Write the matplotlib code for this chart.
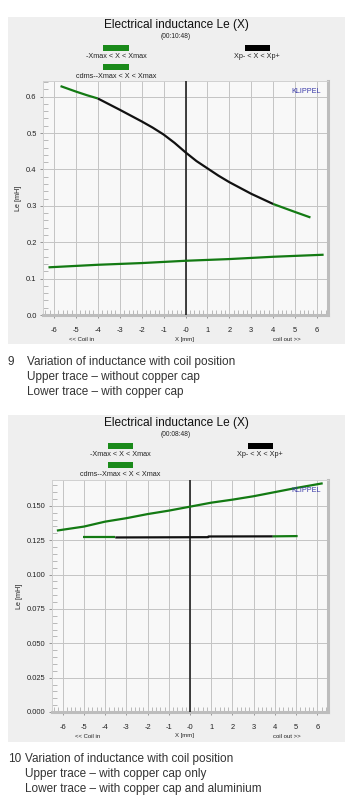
import numpy as np
import matplotlib.pyplot as plt
from matplotlib.patches import Rectangle

plt.rcParams['font.family'] = ['Liberation Sans', 'DejaVu Sans']

W, H = 352, 800

# Chart 9 data
c9_time = '(00:10:48)'
c9_upper_x = [-5.7, -5, -4.5, -4, -3, -2, -1.5, -1, -0.5, 0, 0.5, 1, 1.5, 2, 3, 4, 5, 5.7]
c9_upper_le = [0.629, 0.614, 0.604, 0.595, 0.564, 0.532, 0.515, 0.496, 0.473, 0.447, 0.423,
               0.403, 0.383, 0.365, 0.333, 0.305, 0.283, 0.268]
c9_lower_x = [-6.25, -4, -2, 0, 2, 4, 6.3]
c9_lower_le = [0.131, 0.138, 0.1427, 0.149, 0.1537, 0.160, 0.1656]
c9_xp = (-4.0, 4.0)
c9_yticks = [0.0, 0.1, 0.2, 0.3, 0.4, 0.5, 0.6]
c9_caption = ['Variation of inductance with coil position',
              'Upper trace \u2013 without copper cap',
              'Lower trace \u2013 with copper cap']

# Chart 10 data
c10_time = '(00:08:48)'
c10_upper_x = [-6.27, -5, -4, -3, -2, -1, 0, 1, 2, 3, 4, 5, 6.25]
c10_upper_le = [0.132, 0.1349, 0.1385, 0.141, 0.144, 0.1465, 0.1494, 0.1523, 0.1545,
                0.157, 0.160, 0.163, 0.1664]
c10_lower_x = [-5.06, -3.52, 0.85, 0.87, 3.9, 5.07]
c10_lower_le = [0.1270, 0.1270, 0.1272, 0.1277, 0.1278, 0.1280]
c10_xp = (-3.52, 3.9)
c10_yticks = [0.0, 0.025, 0.05, 0.075, 0.1, 0.125, 0.15]
c10_caption = ['Variation of inductance with coil position',
               'Upper trace \u2013 with copper cap only',
               'Lower trace \u2013 with copper cap and aluminium']

x_ticks = [-6, -5, -4, -3, -2, -1, 0, 1, 2, 3, 4, 5, 6]
x_ticklabels = ['-6', '-5', '-4', '-3', '-2', '-1', '-0', '1', '2', '3', '4', '5', '6']

GREEN = '#137a13'
LEG_GREEN = '#1a8a1a'
PANEL = '#efefef'

fig = plt.figure(figsize=(W / 100, H / 100), dpi=100)
fig.patch.set_facecolor('white')


def fx(px):
    return px / W


def fy(py):
    return 1 - py / H


def draw_segments(ax, xs, ys, xp):
    xs = np.array(xs)
    ys = np.array(ys)
    lo = xs <= xp[0]
    mid = (xs >= xp[0]) & (xs <= xp[1])
    hi = xs >= xp[1]
    ax.plot(xs[lo], ys[lo], color=GREEN, lw=1.6, zorder=4, solid_capstyle='butt')
    ax.plot(xs[mid], ys[mid], color='#111111', lw=1.6, zorder=4, solid_capstyle='butt')
    ax.plot(xs[hi], ys[hi], color=GREEN, lw=1.6, zorder=4, solid_capstyle='butt')


def chart(top, ax_left, ax_top, ax_bot, ymax, time_txt, yticks, yfmt, data, caption, num, cap_y, txt_x):
    # grey panel behind
    fig.patches.append(Rectangle((fx(8), fy(top + 327)), fx(337), 327 / H,
                                 transform=fig.transFigure, facecolor=PANEL,
                                 edgecolor='none', zorder=-5))
    cx = 176
    fig.text(fx(cx), fy(top + 8), 'Electrical inductance Le (X)', ha='center', va='center',
             fontsize=8.6, color='#111111')
    fig.text(fx(cx), fy(top + 19), time_txt, ha='center', va='center', fontsize=4.8,
             color='#222222')
    # legend
    lx1 = 116 if num == 9 else 120
    lx2 = 257 if num == 9 else 260
    fig.patches.append(Rectangle((fx(lx1 - 12.5), fy(top + 34)), fx(25), 6 / H,
                                 transform=fig.transFigure, facecolor=LEG_GREEN, edgecolor='none'))
    fig.text(fx(lx1), fy(top + 40), '-Xmax < X < Xmax', ha='center', va='center', fontsize=5.2,
             color='#222222')
    fig.patches.append(Rectangle((fx(lx1 - 12.5), fy(top + 53)), fx(25), 6 / H,
                                 transform=fig.transFigure, facecolor=LEG_GREEN, edgecolor='none'))
    fig.text(fx(lx1), fy(top + 59), 'cdms--Xmax < X < Xmax', ha='center', va='center', fontsize=5.2,
             color='#222222')
    fig.patches.append(Rectangle((fx(lx2 - 12.5), fy(top + 34)), fx(25), 6 / H,
                                 transform=fig.transFigure, facecolor='black', edgecolor='none'))
    fig.text(fx(lx2), fy(top + 40), 'Xp- < X < Xp+', ha='center', va='center', fontsize=5.2,
             color='#222222')

    ax = fig.add_axes([fx(ax_left), fy(ax_bot), fx(328 - ax_left), (ax_bot - ax_top) / H])
    ax.set_facecolor('#f8f8f8')
    ax.set_xlim(-6.5, 6.5)
    ax.set_ylim(0, ymax)
    ax.set_xticks(x_ticks)
    ax.set_xticklabels(x_ticklabels)
    ax.set_xticks(np.arange(-6.4, 6.5, 0.2), minor=True)
    ax.set_yticks(yticks)
    ax.set_yticklabels([yfmt % v for v in yticks])
    step = yticks[1] - yticks[0]
    ax.set_yticks(np.arange(0, ymax, step / 5), minor=True)
    ax.tick_params(which='major', direction='out', length=2.5, width=0.6, color='#888888',
                   labelsize=5.4, labelcolor='#222222', pad=2)
    ax.tick_params(axis='x', which='major', pad=6)
    ax.tick_params(which='minor', direction='in', length=3.5, width=0.5, color='#a0a0a0')
    ax.grid(True, which='major', color='#c4c4c4', lw=0.7, zorder=1)
    ax.set_axisbelow(True)
    for s in ['left', 'top']:
        ax.spines[s].set_color('#d0d0d0')
        ax.spines[s].set_linewidth(0.7)
    for s in ['right', 'bottom']:
        ax.spines[s].set_color('#bdbdbd')
        ax.spines[s].set_linewidth(2.2)
    ax.axvline(0, color='#222222', lw=1.2, zorder=3)
    ax.set_ylabel('Le [mH]', fontsize=5.2, color='#222222', labelpad=3)
    ax.text(0.975, 0.955, 'KLIPPEL', transform=ax.transAxes, ha='right', va='center',
            fontsize=5.2, color='#3838a8', zorder=5)

    (ux, uy, uxp), (bx, by, bxp) = data
    draw_segments(ax, ux, uy, uxp)
    draw_segments(ax, bx, by, bxp)

    ybot = ax_bot
    fig.text(fx(185), fy(ybot + 24), 'X [mm]', ha='center', va='center', fontsize=4.3, color='#222222')
    fig.text(fx(82 if num == 9 else 88), fy(ybot + 24), '<< Coil in', ha='center', va='center',
             fontsize=4.3, color='#222222')
    fig.text(fx(287), fy(ybot + 24), 'coil out >>', ha='center', va='center', fontsize=4.3,
             color='#222222')

    fig.text(fx(8), fy(cap_y), str(num), ha='left', va='center', fontsize=8.5, color='#333333')
    for i, line in enumerate(caption):
        fig.text(fx(txt_x), fy(cap_y + i * 15), line, ha='left', va='center',
                 fontsize=8.5, color='#333333')
    return ax


# upper trace without copper cap (black in Xp range), lower trace with cap (all green)
chart(17, 43, 81, 315, 0.643, c9_time, c9_yticks, '%.1f',
      [(c9_upper_x, c9_upper_le, c9_xp), (c9_lower_x, c9_lower_le, (99, 99))],
      c9_caption, 9, 362, 27)
chart(415, 52, 480, 712, 0.1688, c10_time, c10_yticks, '%.3f',
      [(c10_upper_x, c10_upper_le, (99, 99)), (c10_lower_x, c10_lower_le, c10_xp)],
      c10_caption, 10, 759, 25)

fig.savefig('out.png', dpi=100)
